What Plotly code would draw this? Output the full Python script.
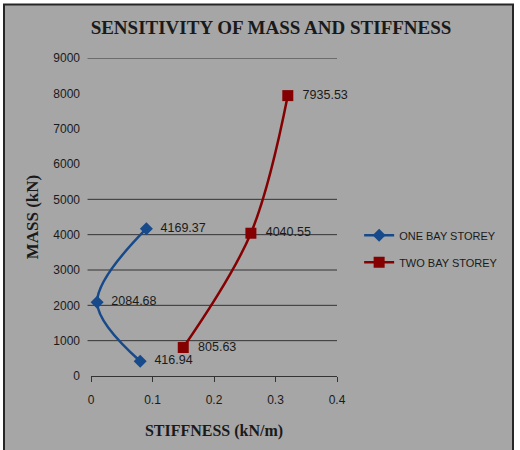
import plotly.graph_objects as go

# Data
one_bay_stiffness = [0.08, 0.01, 0.09]
one_bay_mass = [416.94, 2084.68, 4169.37]
two_bay_stiffness = [0.15, 0.26, 0.32]
two_bay_mass = [805.63, 4040.55, 7935.53]
one_bay_labels = ["416.94", "2084.68", "4169.37"]
two_bay_labels = ["805.63", "4040.55", "7935.53"]
y_ticks = [0, 1000, 2000, 3000, 4000, 5000, 6000, 7000, 8000, 9000]
x_ticks = [0, 0.1, 0.2, 0.3, 0.4]
x_tick_text = ["0", "0.1", "0.2", "0.3", "0.4"]
visible_grid = [1000, 2000, 3000, 4000, 5000, 9000]

BG = "#a6a6a6"
TXT = "#1a1a1a"
BLUE = "#174a8a"
RED = "#850000"
sans = "Liberation Sans, Arial, sans-serif"
serif = "Liberation Serif, Times New Roman, serif"

fig = go.Figure()
fig.add_trace(go.Scatter(
    x=one_bay_stiffness, y=one_bay_mass, name="ONE BAY STOREY",
    mode="lines+markers+text", text=["  " + t for t in one_bay_labels], textposition="middle right",
    textfont=dict(family=sans, size=12.5, color=TXT),
    line=dict(color=BLUE, width=2.5, shape="spline", smoothing=1),
    marker=dict(symbol="diamond", size=10, color=BLUE),
    legendgroup="a", cliponaxis=False,
))
fig.add_trace(go.Scatter(
    x=two_bay_stiffness, y=two_bay_mass, name="TWO BAY STOREY",
    mode="lines+markers+text", text=["  " + t for t in two_bay_labels], textposition="middle right",
    textfont=dict(family=sans, size=12.5, color=TXT),
    line=dict(color=RED, width=2.5, shape="spline", smoothing=1),
    marker=dict(symbol="square", size=11, color=RED),
    legendgroup="b", cliponaxis=False,
))

shapes = [dict(type="rect", xref="paper", yref="paper",
               x0=(4 - 91) / 246, x1=(513 - 91) / 246,
               y0=(376 - 460) / 318, y1=(376 - 4.5) / 318,
               fillcolor=BG, line=dict(color="#262626", width=2), layer="below")]
for g in visible_grid:
    shapes.append(dict(type="line", xref="paper", yref="y", x0=-0.014, x1=1.0,
                       y0=g, y1=g, line=dict(color="#333333", width=1), layer="below"))

fig.update_layout(
    width=520, height=450,
    margin=dict(l=91, r=183, t=58, b=74),
    paper_bgcolor="white", plot_bgcolor="rgba(0,0,0,0)",
    shapes=shapes,
    title=dict(text="<b>SENSITIVITY OF MASS AND STIFFNESS</b>", x=271 / 520, xanchor="center",
               y=1 - 27 / 450, yanchor="middle",
               font=dict(family=serif, size=19, color=TXT)),
    xaxis=dict(range=[0, 0.4], tickvals=x_ticks, ticktext=x_tick_text,
               showgrid=False, zeroline=False, showline=True, linecolor="#333333", linewidth=1,
               ticks="outside", ticklen=5, tickcolor="#333333",
               tickfont=dict(family=sans, size=12, color=TXT), ticklabelstandoff=8,
               title=dict(text="<b>STIFFNESS (kN/m)</b>", font=dict(family=serif, size=16, color=TXT),
                          standoff=18)),
    yaxis=dict(range=[0, 9000], tickvals=y_ticks, showgrid=False, zeroline=False, showline=False,
               ticks="", tickfont=dict(family=sans, size=12, color=TXT), ticklabelstandoff=10,
               title=dict(text="<b>MASS (kN)</b>", font=dict(family=serif, size=17, color=TXT),
                          standoff=10)),
    legend=dict(x=1.09, y=0.40, xanchor="left", yanchor="middle", bgcolor="rgba(0,0,0,0)",
                font=dict(family=sans, size=11, color=TXT), tracegroupgap=8, traceorder="grouped"),
    showlegend=True,
)

fig.write_html("out.html")
